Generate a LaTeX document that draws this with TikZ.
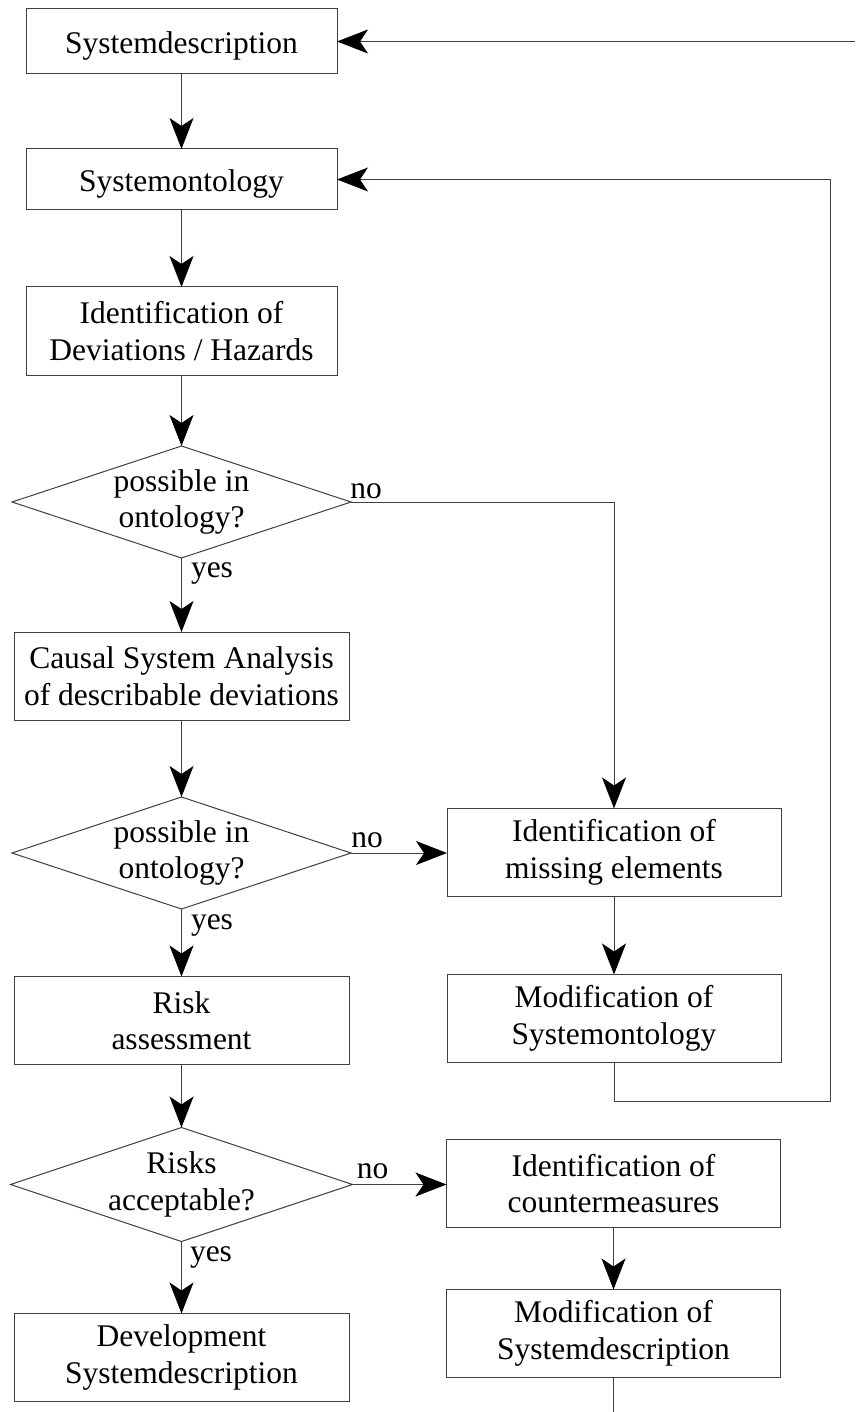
\documentclass[tikz,border=0pt]{standalone}
\usepackage{fontspec}
\setmainfont{Liberation Serif}
\usetikzlibrary{arrows.meta,shapes.geometric}
\begin{document}
\begin{tikzpicture}[x=1pt,y=-1pt,
  every node/.style={font=\fontsize{31.5}{36.5}\selectfont, inner sep=0pt, outer sep=0pt},
  line/.style={draw=black!75, line width=1pt},
  arr/.style={line, -{Stealth[length=31pt,width=24pt,inset=8pt,black]}},
  box/.style={line, rectangle, align=center, minimum height=88pt,
    execute at begin node={\rule{0pt}{30pt}}},
  boxA/.style={box, minimum width=311pt},
  boxB/.style={box, minimum width=335pt},
  boxR/.style={box, minimum width=334pt},
  decision/.style={line, diamond, aspect=3, align=center, minimum width=339pt, minimum height=112pt},
  lbl/.style={}
]
\useasboundingbox (0,0) rectangle (855,1412);

% left column
\node[boxA, minimum height=65pt] (sd) at (181.5,41.5) {Systemdescription};
\node[boxA, minimum height=61pt] (so) at (181.5,179.5) {Systemontology};
\node[boxA] (idh) at (181.5,331) {Identification of\\Deviations / Hazards};
\node[decision] (d1) at (181.5,502) {possible in\\ontology?};
\node[boxB] (csa) at (181.5,676) {Causal System Analysis\\of describable deviations};
\node[decision] (d2) at (181.5,853) {possible in\\ontology?};
\node[boxB] (ra) at (181.5,1020.5) {Risk\\assessment};
\node[decision, minimum height=113pt] (d3) at (181.5,1184.5) {Risks\\acceptable?};
\node[boxB] (dsd) at (181.5,1357.5) {Development\\Systemdescription};

% right column
\node[boxR] (ime) at (614,852.5) {Identification of\\missing elements};
\node[boxR] (mso) at (614,1018.5) {Modification of\\Systemontology};
\node[boxR] (icm) at (613.5,1183.5) {Identification of\\countermeasures};
\node[boxR] (msd) at (613.5,1333.5) {Modification of\\Systemdescription};

% labels
\node[lbl] (no1) at (366,491) {no};
\node[lbl] (yes1) at (212,573) {yes};
\node[lbl] (no2) at (367,840) {no};
\node[lbl] (yes2) at (212,925) {yes};
\node[lbl] (no3) at (372.5,1171) {no};
\node[lbl] (yes3) at (211,1257) {yes};

% helper coordinates
\coordinate (topin) at (855,41.5);
\coordinate (lr) at (830,1101);
\coordinate (botout) at (613.5,1412);

% main flow
\draw[arr] (sd) -- (so);
\draw[arr] (so) -- (idh);
\draw[arr] (idh) -- (d1);
\draw[arr] (d1) -- (csa);
\draw[arr] (csa) -- (d2);
\draw[arr] (d2) -- (ra);
\draw[arr] (ra) -- (d3);
\draw[arr] (d3) -- (dsd);

% branches
\draw[arr] (d1.east) -| (ime.north);
\draw[arr] (d2.east) -- (ime.west |- d2.east);
\draw[arr] (ime) -- (mso);
\draw[arr] (mso.south) |- (lr) |- (so.east);
\draw[arr] (d3.east) -- (icm.west |- d3.east);
\draw[arr] (icm) -- (msd);
\draw[line] (msd.south) -- (botout);
\draw[arr] (topin) -- (sd.east);
\end{tikzpicture}
\end{document}
